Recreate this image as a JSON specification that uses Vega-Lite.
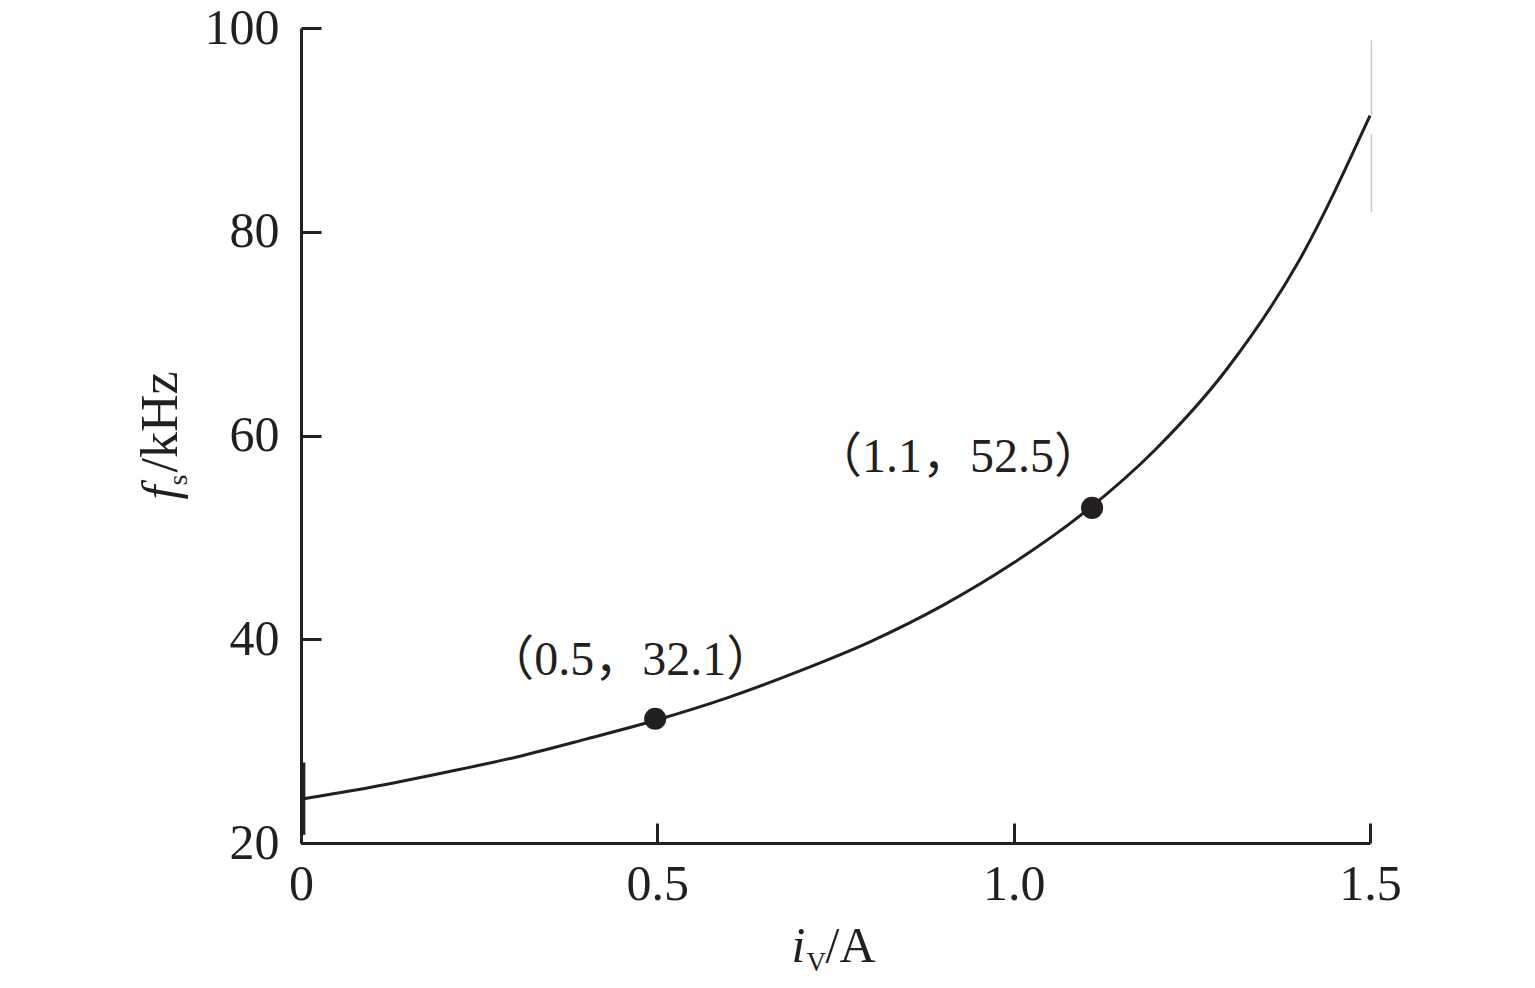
{
  "$schema": "https://vega.github.io/schema/vega-lite/v6.json",
  "autosize": "none",
  "width": 1069,
  "height": 815,
  "padding": {"left": 301, "top": 28, "right": 165, "bottom": 145},
  "background": "white",
  "config": {
    "view": {"stroke": null},
    "axis": {
      "grid": false,
      "domainColor": "#231f20",
      "domainWidth": 3,
      "tickColor": "#231f20",
      "tickWidth": 3,
      "tickSize": -20,
      "labelFont": "Liberation Serif",
      "labelFontSize": 50,
      "labelColor": "#231f20",
      "labelFlush": false,
      "labelOverlap": false
    }
  },
  "datasets": {
    "curve": [
      {"x": 0.0, "y": 24.3},
      {"x": 0.1, "y": 25.5},
      {"x": 0.2, "y": 26.9},
      {"x": 0.3, "y": 28.4},
      {"x": 0.4, "y": 30.2},
      {"x": 0.5, "y": 32.1},
      {"x": 0.6, "y": 34.3},
      {"x": 0.7, "y": 36.9},
      {"x": 0.8, "y": 39.8},
      {"x": 0.9, "y": 43.3},
      {"x": 1.0, "y": 47.5},
      {"x": 1.1, "y": 52.5},
      {"x": 1.2, "y": 58.7},
      {"x": 1.3, "y": 66.6},
      {"x": 1.4, "y": 77.1},
      {"x": 1.5, "y": 91.4}
    ],
    "points": [
      {"x": 0.497, "y": 32.2, "lx": 0.462, "ly": 36.5, "label": "（0.5，32.1）"},
      {"x": 1.11, "y": 52.9, "lx": 0.922, "ly": 56.4, "label": "（1.1，52.5）"}
    ],
    "edges": [
      {"x": 0.004, "y1": 27.9, "y2": 20.8, "kind": "dark"},
      {"x": 1.502, "y1": 98.8, "y2": 91.4, "kind": "grey"},
      {"x": 1.502, "y1": 89.6, "y2": 81.9, "kind": "grey"}
    ]
  },
  "layer": [
    {
      "data": {"name": "curve"},
      "mark": {"type": "line", "color": "#231f20", "strokeWidth": 3, "interpolate": "monotone"},
      "encoding": {
        "x": {"field": "x", "type": "quantitative", "title": null,
              "scale": {"domain": [0, 1.5], "nice": false, "zero": false},
              "axis": {"values": [0, 0.5, 1, 1.5], "labelPadding": 36,
                       "labelExpr": "datum.value == 0 ? '0' : format(datum.value, '.1f')"}},
        "y": {"field": "y", "type": "quantitative", "title": null,
              "scale": {"domain": [20, 100], "nice": false, "zero": false},
              "axis": {"values": [20, 40, 60, 80, 100], "labelPadding": 42}}
      }
    },
    {
      "data": {"name": "edges"},
      "transform": [{"filter": "datum.kind == 'dark'"}],
      "mark": {"type": "rule", "color": "#231f20", "strokeWidth": 3},
      "encoding": {
        "x": {"field": "x", "type": "quantitative", "title": null},
        "y": {"field": "y1", "type": "quantitative", "title": null},
        "y2": {"field": "y2"}
      }
    },
    {
      "data": {"name": "edges"},
      "transform": [{"filter": "datum.kind == 'grey'"}],
      "mark": {"type": "rule", "color": "#c8c8c8", "strokeWidth": 1.5},
      "encoding": {
        "x": {"field": "x", "type": "quantitative", "title": null},
        "y": {"field": "y1", "type": "quantitative", "title": null},
        "y2": {"field": "y2"}
      }
    },
    {
      "data": {"name": "points"},
      "mark": {"type": "point", "filled": true, "color": "#231f20", "size": 490, "opacity": 1},
      "encoding": {
        "x": {"field": "x", "type": "quantitative", "title": null},
        "y": {"field": "y", "type": "quantitative", "title": null}
      }
    },
    {
      "data": {"name": "points"},
      "mark": {"type": "text", "font": "Liberation Serif, Noto Sans CJK SC", "fontSize": 48, "color": "#231f20", "align": "center", "baseline": "alphabetic"},
      "encoding": {
        "x": {"field": "lx", "type": "quantitative", "title": null},
        "y": {"field": "ly", "type": "quantitative", "title": null},
        "text": {"field": "label"}
      }
    },
    {
      "data": {"values": [{"t": "i"}]},
      "mark": {"type": "text", "font": "Liberation Serif", "fontStyle": "italic", "fontSize": 50, "color": "#231f20", "align": "left", "baseline": "alphabetic", "dx": -44, "dy": 119},
      "encoding": {
        "x": {"datum": 0.75, "type": "quantitative", "title": null},
        "y": {"datum": 20, "type": "quantitative", "title": null},
        "text": {"field": "t"}
      }
    },
    {
      "data": {"values": [{"t": "V"}]},
      "mark": {"type": "text", "font": "Liberation Serif", "fontSize": 27, "color": "#231f20", "align": "left", "baseline": "alphabetic", "dx": -29, "dy": 128},
      "encoding": {
        "x": {"datum": 0.75, "type": "quantitative", "title": null},
        "y": {"datum": 20, "type": "quantitative", "title": null},
        "text": {"field": "t"}
      }
    },
    {
      "data": {"values": [{"t": "/A"}]},
      "mark": {"type": "text", "font": "Liberation Serif", "fontSize": 50, "color": "#231f20", "align": "left", "baseline": "alphabetic", "dx": -10, "dy": 119},
      "encoding": {
        "x": {"datum": 0.75, "type": "quantitative", "title": null},
        "y": {"datum": 20, "type": "quantitative", "title": null},
        "text": {"field": "t"}
      }
    },
    {
      "data": {"values": [{"t": "f"}]},
      "mark": {"type": "text", "font": "Liberation Serif", "fontStyle": "italic", "fontSize": 50, "color": "#231f20", "align": "left", "baseline": "alphabetic", "angle": 270, "dx": -64, "dy": -124},
      "encoding": {
        "x": {"datum": 0, "type": "quantitative", "title": null},
        "y": {"datum": 60, "type": "quantitative", "title": null},
        "text": {"field": "t"}
      }
    },
    {
      "data": {"values": [{"t": "s"}]},
      "mark": {"type": "text", "font": "Liberation Serif", "fontSize": 28, "color": "#231f20", "align": "left", "baseline": "alphabetic", "angle": 270, "dx": -50, "dy": -114},
      "encoding": {
        "x": {"datum": 0, "type": "quantitative", "title": null},
        "y": {"datum": 60, "type": "quantitative", "title": null},
        "text": {"field": "t"}
      }
    },
    {
      "data": {"values": [{"t": "/kHz"}]},
      "mark": {"type": "text", "font": "Liberation Serif", "fontSize": 52, "color": "#231f20", "align": "left", "baseline": "alphabetic", "angle": 270, "dx": -37, "dy": -124},
      "encoding": {
        "x": {"datum": 0, "type": "quantitative", "title": null},
        "y": {"datum": 60, "type": "quantitative", "title": null},
        "text": {"field": "t"}
      }
    }
  ]
}
